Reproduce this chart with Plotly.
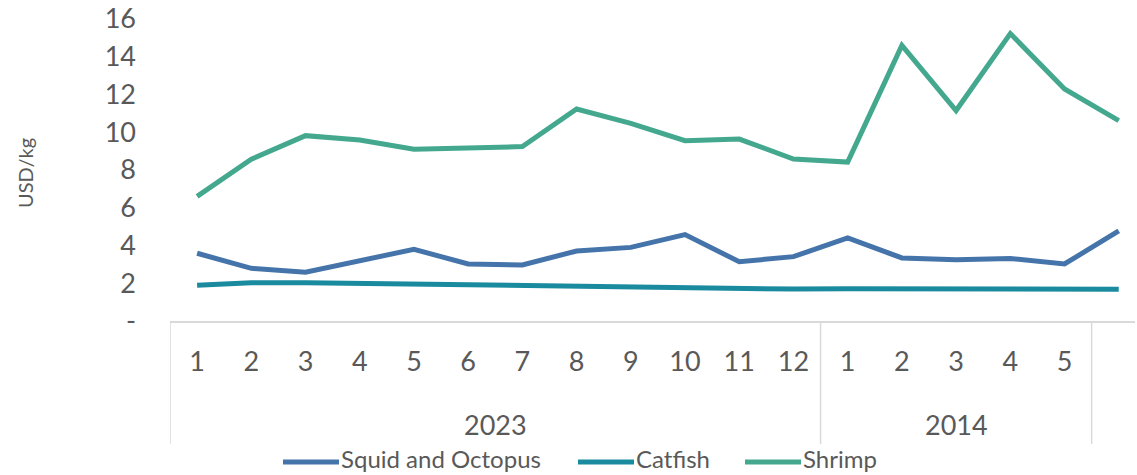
import plotly.graph_objects as go

months = ["1", "2", "3", "4", "5", "6", "7", "8", "9", "10", "11", "12",
          "1", "2", "3", "4", "5", ""]
years = ["2023"] * 12 + ["2014"] * 5 + [""]

squid = [3.59, 2.79, 2.58, 3.2, 3.8, 3.02, 2.97, 3.71, 3.9, 4.58, 3.14, 3.41,
         4.4, 3.34, 3.24, 3.31, 3.02, 4.77]
catfish = [1.9, 2.03, 2.03, 1.99, 1.96, 1.92, 1.92, 1.89, 1.84, 1.79, 1.77, 1.69,
           1.71, 1.7, 1.7, 1.7, 1.68, 1.68]
shrimp = [6.6, 8.57, 9.82, 9.59, 9.1, 9.2, 9.24, 11.23, 10.47, 9.55, 9.64, 8.58,
          8.42, 14.6, 11.15, 15.23, 12.29, 10.62]

series_names = ["Squid and Octopus", "Catfish", "Shrimp"]
series_colors = ["#4574aa", "#1a8a9f", "#44a88f"]

y_ticks = [0, 2, 4, 6, 8, 10, 12, 14, 16]
y_ticktext = ["-", "2", "4", "6", "8", "10", "12", "14", "16"]

FONT = "Lato"
TXT = "#595959"
GRID = "#d9d9d9"

W, H = 1137, 475
PLOT_L, PLOT_R, PLOT_T, PLOT_B = 170, 1135, 19, 321
ML, MR, MT, MB = PLOT_L, W - PLOT_R, PLOT_T, H - PLOT_B
PW = PLOT_R - PLOT_L
PH = PLOT_B - PLOT_T


def px_to_paper_x(px):
    return (px - PLOT_L) / PW


def px_to_paper_y(py):
    return (PLOT_B - py) / PH


x = list(range(1, len(months) + 1))

fig = go.Figure()
for name, vals, col in zip(series_names, [squid, catfish, shrimp], series_colors):
    fig.add_trace(go.Scatter(x=x, y=vals, name=name, mode="lines",
                             line=dict(color=col, width=5), showlegend=False))

# group labels and separators
groups = []
for i, yr in enumerate(years):
    if groups and groups[-1][0] == yr:
        groups[-1][2] = i + 1
    else:
        groups.append([yr, i + 1, i + 1])

annotations = []
shapes = []
sep_bottom = px_to_paper_y(444)
for yr, a, b in groups:
    if yr:
        annotations.append(dict(x=(a + b) / 2, y=px_to_paper_y(424), xref="x", yref="paper",
                                text=yr, showarrow=False,
                                font=dict(family=FONT, size=27, color=TXT),
                                xanchor="center", yanchor="middle"))
    shapes.append(dict(type="line", xref="x", yref="paper", x0=a - 0.5, x1=a - 0.5,
                       y0=0, y1=sep_bottom, line=dict(color=GRID, width=1.5)))

annotations.append(dict(x=px_to_paper_x(25), y=px_to_paper_y(173), xref="paper", yref="paper",
                        text="USD/kg", textangle=-90, showarrow=False,
                        font=dict(family=FONT, size=20, color=TXT),
                        xanchor="center", yanchor="middle"))

# legend (drawn as line samples + labels)
leg_line_y = px_to_paper_y(462)
leg_text_y = px_to_paper_y(459)
leg_line_starts = [283, 578, 745]
leg_line_len = 56
for name, col, x0 in zip(series_names, series_colors, leg_line_starts):
    shapes.append(dict(type="line", xref="paper", yref="paper",
                       x0=px_to_paper_x(x0), x1=px_to_paper_x(x0 + leg_line_len),
                       y0=leg_line_y, y1=leg_line_y, line=dict(color=col, width=5)))
    annotations.append(dict(x=px_to_paper_x(x0 + leg_line_len + 1), y=leg_text_y,
                            xref="paper", yref="paper", text=name, showarrow=False,
                            font=dict(family=FONT, size=24, color=TXT),
                            xanchor="left", yanchor="middle", borderpad=0))

fig.update_layout(
    width=W, height=H,
    margin=dict(l=ML, r=MR, t=MT, b=MB, autoexpand=False),
    paper_bgcolor="white", plot_bgcolor="white",
    font=dict(family=FONT, color=TXT),
    showlegend=False,
    annotations=annotations,
    shapes=shapes,
    xaxis=dict(range=[0.5, 18.3], tickmode="array", tickvals=x, ticktext=months,
               showgrid=False, zeroline=False, showline=True, linecolor=GRID,
               linewidth=1.5, ticks="", tickfont=dict(family=FONT, size=27, color=TXT),
               ticklabelstandoff=16, automargin=False, ticklabeloverflow="allow"),
    yaxis=dict(range=[0, 16], tickmode="array", tickvals=y_ticks, ticktext=y_ticktext,
               showgrid=False, zeroline=False, showline=False, ticks="",
               tickfont=dict(family=FONT, size=27, color=TXT),
               ticklabelstandoff=33, automargin=False, ticklabeloverflow="allow"),
)

fig.write_html("out.html",
               config={"displayModeBar": False},
               post_script="document.body.style.margin='0';document.body.style.overflow='hidden';")
